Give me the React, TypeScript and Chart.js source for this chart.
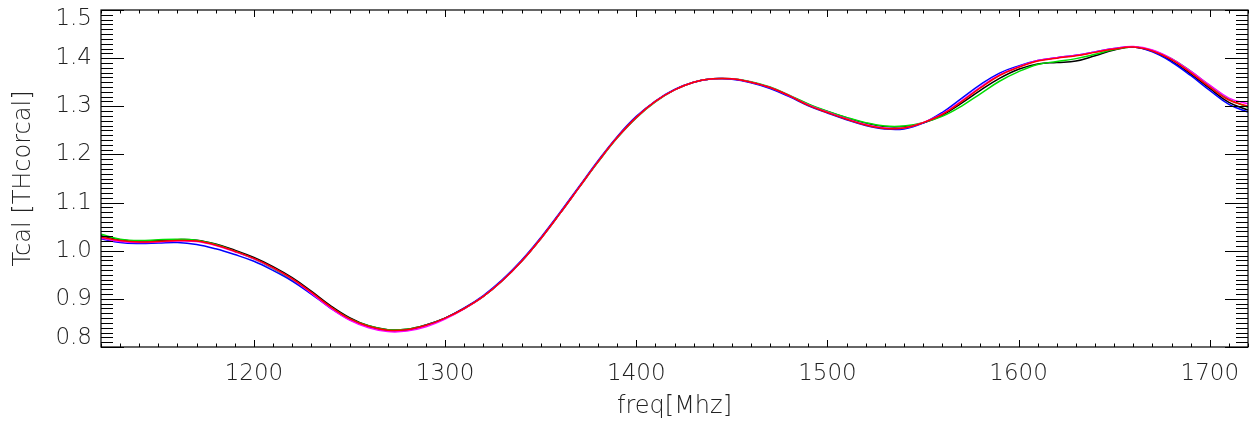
import React, { useEffect, useRef } from "react";
import { Chart, registerables } from "chart.js";

Chart.register(...registerables);

const freqs = [
  1120, 1130, 1140, 1150, 1160, 1170, 1180, 1190, 1200, 1210,
  1220, 1230, 1240, 1250, 1260, 1270, 1280, 1290, 1300, 1310,
  1320, 1330, 1340, 1350, 1360, 1370, 1380, 1390, 1400, 1410,
  1420, 1430, 1440, 1450, 1460, 1470, 1480, 1490, 1500, 1510,
  1520, 1530, 1540, 1550, 1560, 1570, 1580, 1590, 1600, 1610,
  1620, 1630, 1640, 1650, 1660, 1670, 1680, 1690, 1700, 1710,
  1720,
];

const tcalRed = [
  1.028, 1.021, 1.018, 1.019, 1.021, 1.020, 1.012, 0.999, 0.984, 0.965,
  0.942, 0.914, 0.884, 0.859, 0.843, 0.835, 0.836, 0.845, 0.860, 0.880,
  0.905, 0.938, 0.978, 1.025, 1.077, 1.131, 1.185, 1.235, 1.277, 1.310,
  1.334, 1.350, 1.357, 1.357, 1.350, 1.339, 1.322, 1.302, 1.287, 1.273,
  1.261, 1.254, 1.255, 1.266, 1.283, 1.309, 1.338, 1.364, 1.381, 1.394,
  1.400, 1.405, 1.412, 1.419, 1.423, 1.415, 1.397, 1.370, 1.340, 1.313,
  1.300,
];

const tcalBlue = [
  1.025, 1.017, 1.015, 1.016, 1.017, 1.013, 1.004, 0.992, 0.978, 0.959,
  0.937, 0.910, 0.881, 0.857, 0.842, 0.834, 0.835, 0.845, 0.860, 0.881,
  0.907, 0.940, 0.980, 1.027, 1.079, 1.133, 1.187, 1.237, 1.279, 1.311,
  1.335, 1.350, 1.357, 1.356, 1.349, 1.337, 1.320, 1.301, 1.286, 1.272,
  1.260, 1.253, 1.253, 1.265, 1.287, 1.316, 1.345, 1.369, 1.384, 1.395,
  1.401, 1.406, 1.413, 1.420, 1.423, 1.413, 1.392, 1.364, 1.333, 1.304,
  1.288,
];

const tcalGreen = [
  1.034, 1.024, 1.021, 1.023, 1.024, 1.022, 1.013, 0.999, 0.983, 0.963,
  0.939, 0.912, 0.883, 0.859, 0.844, 0.836, 0.837, 0.846, 0.860, 0.880,
  0.905, 0.938, 0.978, 1.025, 1.077, 1.131, 1.184, 1.234, 1.276, 1.309,
  1.334, 1.350, 1.357, 1.357, 1.351, 1.340, 1.323, 1.305, 1.290, 1.277,
  1.266, 1.259, 1.259, 1.266, 1.279, 1.300, 1.326, 1.352, 1.372, 1.387,
  1.393, 1.399, 1.408, 1.418, 1.423, 1.416, 1.399, 1.373, 1.343, 1.315,
  1.298,
];

const tcalBlack = [
  1.031, 1.023, 1.020, 1.021, 1.023, 1.022, 1.014, 1.001, 0.986, 0.967,
  0.944, 0.916, 0.886, 0.861, 0.844, 0.836, 0.837, 0.846, 0.860, 0.880,
  0.905, 0.938, 0.978, 1.025, 1.077, 1.131, 1.185, 1.235, 1.277, 1.310,
  1.334, 1.350, 1.357, 1.357, 1.350, 1.339, 1.322, 1.304, 1.289, 1.276,
  1.265, 1.258, 1.258, 1.265, 1.281, 1.306, 1.333, 1.358, 1.377, 1.388,
  1.391, 1.394, 1.405, 1.417, 1.423, 1.414, 1.394, 1.367, 1.337, 1.308,
  1.292,
];

const tcalMagenta = [
  1.026, 1.019, 1.017, 1.018, 1.020, 1.019, 1.011, 0.998, 0.983, 0.964,
  0.941, 0.912, 0.881, 0.856, 0.840, 0.832, 0.833, 0.842, 0.858, 0.879,
  0.905, 0.938, 0.978, 1.025, 1.077, 1.131, 1.185, 1.235, 1.277, 1.310,
  1.334, 1.350, 1.357, 1.357, 1.350, 1.339, 1.322, 1.303, 1.288, 1.274,
  1.262, 1.255, 1.255, 1.266, 1.284, 1.311, 1.340, 1.365, 1.382, 1.395,
  1.401, 1.406, 1.413, 1.420, 1.424, 1.417, 1.399, 1.373, 1.344, 1.317,
  1.305,
];

const xTicks = [1200, 1300, 1400, 1500, 1600, 1700];
const yTicks = [0.8, 0.9, 1.0, 1.1, 1.2, 1.3, 1.4, 1.5];

const X_MIN = 1120;
const X_MAX = 1720;
const Y_MIN = 0.8;
const Y_MAX = 1.5;

const FONT_FAMILY = "'DejaVu Sans', 'Liberation Sans', sans-serif";
const TEXT_COLOR = "#222";

export default function App() {
  const ref = useRef<HTMLCanvasElement>(null);

  useEffect(() => {
    if (!ref.current) return;
    const toPts = (vals: number[]) => freqs.map((f, i) => ({ x: f, y: vals[i] }));

    const idlFrame = {
      id: "idlFrame",
      beforeDraw(chart: any) {
        const ys = chart.scales.y;
        const items = ys.getLabelItems();
        if (items && items.length) {
          const first = items[0];
          const last = items[items.length - 1];
          // IDL pulls edge labels inward
          first.options.translation = [first.options.translation[0], first.options.translation[1] - 9];
          last.options.translation = [last.options.translation[0], last.options.translation[1] + 9];
        }
      },
      afterDraw(chart: any) {
        const { ctx, chartArea, scales } = chart;
        const { left, right, top, bottom } = chartArea;
        const xs = scales.x;
        const ys = scales.y;
        ctx.save();
        ctx.strokeStyle = "#000";
        ctx.lineWidth = 1.2;
        ctx.strokeRect(left, top, right - left, bottom - top);
        ctx.lineWidth = 1;
        const line = (x1: number, y1: number, x2: number, y2: number) => {
          ctx.beginPath();
          ctx.moveTo(x1, y1);
          ctx.lineTo(x2, y2);
          ctx.stroke();
        };
        for (let f = X_MIN; f <= X_MAX; f += 10) {
          const px = Math.round(xs.getPixelForValue(f)) + 0.5;
          const major = f % 100 === 0;
          const len = major ? 7 : 3.5;
          line(px, bottom, px, bottom - len);
          line(px, top, px, top + len);
        }
        for (let k = 80; k <= 150; k++) {
          const py = Math.round(ys.getPixelForValue(k / 100)) + 0.5;
          const major = k % 10 === 0;
          const len = major ? 23 : 12;
          line(left, py, left + len, py);
          line(right, py, right - len, py);
        }
        ctx.restore();
      },
    };

    const mk = (label: string, vals: number[], color: string) => ({
      label,
      data: toPts(vals),
      borderColor: color,
      backgroundColor: color,
      borderWidth: 1.5,
      pointRadius: 0,
      fill: false,
      tension: 0.4,
    });

    const chart = new Chart(ref.current, {
      type: "line",
      data: {
        datasets: [
          mk("red", tcalRed, "#ff0000"),
          mk("magenta", tcalMagenta, "#ff00ff"),
          mk("blue", tcalBlue, "#0000ff"),
          mk("green", tcalGreen, "#00dd00"),
          mk("black", tcalBlack, "#000000"),
        ],
      },
      options: {
        animation: false,
        responsive: true,
        maintainAspectRatio: false,
        layout: { padding: { top: 10, right: 9, left: 0, bottom: 0 } },
        plugins: {
          legend: { display: false },
          tooltip: { enabled: false },
          title: { display: false },
        },
        scales: {
          x: {
            type: "linear",
            min: X_MIN,
            max: X_MAX,
            afterBuildTicks: (s: any) => {
              s.ticks = xTicks.map((v) => ({ value: v }));
            },
            afterFit: (s: any) => {
              s.height = 77;
              s.paddingLeft = 0;
              s.paddingRight = 0;
            },
            grid: { display: false, drawTicks: false },
            border: { display: false },
            ticks: {
              padding: 13,
              maxRotation: 0,
              autoSkip: false,
              color: TEXT_COLOR,
              font: { family: FONT_FAMILY, size: 23, weight: "200" as any },
              callback: (v: any) => String(v),
            },
            title: {
              display: true,
              text: "freq[Mhz]",
              color: TEXT_COLOR,
              font: { family: FONT_FAMILY, size: 24, weight: "200" as any },
              padding: { top: 0, bottom: 3 },
            },
          },
          y: {
            type: "linear",
            min: Y_MIN,
            max: Y_MAX,
            afterBuildTicks: (s: any) => {
              s.ticks = yTicks.map((v) => ({ value: v }));
            },
            afterFit: (s: any) => {
              s.width = 101;
              s.paddingTop = 0;
              s.paddingBottom = 0;
            },
            grid: { display: false, drawTicks: false },
            border: { display: false },
            ticks: {
              padding: 9,
              autoSkip: false,
              color: TEXT_COLOR,
              font: { family: FONT_FAMILY, size: 23, weight: "200" as any },
              callback: (v: any) => Number(v).toFixed(1),
            },
            title: {
              display: true,
              text: "Tcal [THcorcal]",
              color: TEXT_COLOR,
              font: { family: FONT_FAMILY, size: 24, weight: "200" as any },
              padding: { top: 9, bottom: 0 },
            },
          },
        },
      },
      plugins: [idlFrame],
    });

    return () => chart.destroy();
  }, []);

  return (
    <div style={{ position: "fixed", left: 0, top: 0, width: 1257, height: 424, background: "#fff" }}>
      <canvas ref={ref} />
    </div>
  );
}
